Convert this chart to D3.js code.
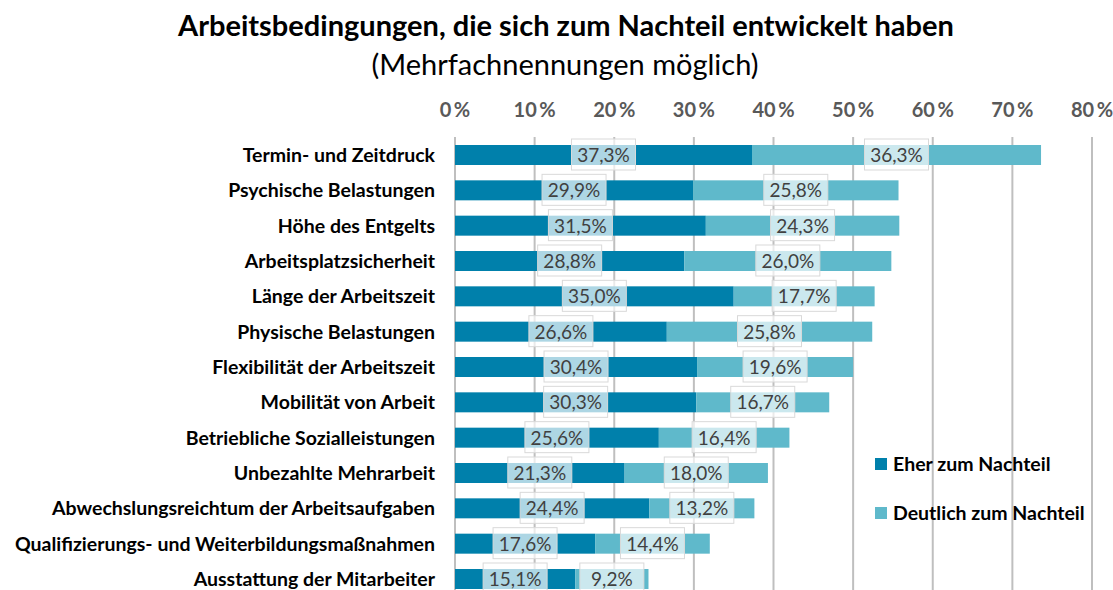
<!DOCTYPE html>
<html>
<head>
<meta charset="utf-8">
<script src="https://cdn.jsdelivr.net/npm/d3@7"></script>
<style>
  body { margin: 0; background: #fff; }
  svg { display: block; font-family: Lato, "Open Sans", sans-serif; }
</style>
</head>
<body>
<div id="chart"></div>
<script>
const categories = [
    "Termin- und Zeitdruck",
    "Psychische Belastungen",
    "Höhe des Entgelts",
    "Arbeitsplatzsicherheit",
    "Länge der Arbeitszeit",
    "Physische Belastungen",
    "Flexibilität der Arbeitszeit",
    "Mobilität von Arbeit",
    "Betriebliche Sozialleistungen",
    "Unbezahlte Mehrarbeit",
    "Abwechslungsreichtum der Arbeitsaufgaben",
    "Qualifizierungs- und Weiterbildungsmaßnahmen",
    "Ausstattung der Mitarbeiter"
];
const eherValues = [37.3, 29.9, 31.5, 28.8, 35.0, 26.6, 30.4, 30.3, 25.6, 21.3, 24.4, 17.6, 15.1];
const deutlichValues = [36.3, 25.8, 24.3, 26.0, 17.7, 25.8, 19.6, 16.7, 16.4, 18.0, 13.2, 14.4, 9.2];
const seriesNames = ["Eher zum Nachteil", "Deutlich zum Nachteil"];
const seriesColors = ["#0080ab", "#5fb9cb"];
const xTicks = [0, 10, 20, 30, 40, 50, 60, 70, 80];

const width = 1113, height = 590;

const svg = d3.select("#chart").append("svg")
    .attr("width", width)
    .attr("height", height);

const x = d3.scaleLinear().domain([0, 80]).range([455, 1092]);
const y = d3.scaleBand().domain(categories).range([135, 599]).paddingInner(0.434).paddingOuter(0.283);

// title
svg.append("text")
    .attr("x", 566).attr("y", 36)
    .attr("text-anchor", "middle")
    .attr("font-size", "29px")
    .attr("font-weight", "bold")
    .attr("fill", "#000")
    .text("Arbeitsbedingungen, die sich zum Nachteil entwickelt haben");

svg.append("text")
    .attr("x", 565).attr("y", 75)
    .attr("text-anchor", "middle")
    .attr("font-size", "29px")
    .attr("fill", "#000")
    .text("(Mehrfachnennungen möglich)");

// grid lines
svg.append("g").selectAll("line")
    .data(xTicks)
    .enter().append("line")
    .attr("x1", d => x(d)).attr("x2", d => x(d))
    .attr("y1", 137).attr("y2", height)
    .attr("stroke", "#bfbfbf")
    .attr("stroke-width", 2);

// top axis labels (thin space before %)
svg.append("g").selectAll("text")
    .data(xTicks)
    .enter().append("text")
    .attr("x", d => x(d)).attr("y", 117)
    .attr("text-anchor", "middle")
    .attr("font-size", "20px")
    .attr("font-weight", "bold")
    .attr("fill", "#595959")
    .text(d => d + "\u2009%");

// stacked data
const rows = categories.map((c, i) => ({cat: c, a: eherValues[i], b: deutlichValues[i]}));
const stacked = d3.stack().keys(["a", "b"])(rows);

const fmt = v => v.toFixed(1).replace(".", ",") + "%";

stacked.forEach((layer, si) => {
    svg.append("g").selectAll("rect")
        .data(layer)
        .enter().append("rect")
        .attr("x", d => x(d[0]))
        .attr("y", d => y(d.data.cat))
        .attr("width", d => x(d[1]) - x(d[0]))
        .attr("height", y.bandwidth())
        .attr("fill", seriesColors[si]);
});

// value labels
stacked.forEach((layer, si) => {
    const g = svg.append("g").selectAll("g")
        .data(layer)
        .enter().append("g")
        .attr("transform", d => `translate(${x((d[0] + d[1]) / 2)},${y(d.data.cat) + y.bandwidth() / 2})`);

    g.append("rect")
        .attr("x", -32).attr("y", -16)
        .attr("width", 64).attr("height", 31)
        .attr("fill", "rgba(255,255,255,0.68)")
        .attr("stroke", "#d9d9d9")
        .attr("stroke-width", 1);

    g.append("text")
        .attr("text-anchor", "middle")
        .attr("dy", "0.36em")
        .attr("font-size", "19px")
        .attr("fill", "#404040")
        .text(d => fmt(d[1] - d[0]));
});

// category labels
svg.append("g").selectAll("text")
    .data(categories)
    .enter().append("text")
    .attr("x", 435)
    .attr("y", d => y(d) + y.bandwidth() / 2)
    .attr("dy", "0.36em")
    .attr("text-anchor", "end")
    .attr("font-size", "19.5px")
    .attr("font-weight", "bold")
    .attr("fill", "#000")
    .text(d => d);

// legend
const legend = svg.append("g").attr("transform", "translate(875,464)");
seriesNames.forEach((name, i) => {
    legend.append("rect")
        .attr("x", 0).attr("y", i * 49 - 6)
        .attr("width", 12).attr("height", 12)
        .attr("fill", seriesColors[i]);
    legend.append("text")
        .attr("x", 18).attr("y", i * 49)
        .attr("dy", "0.36em")
        .attr("font-size", "19.5px")
        .attr("font-weight", "bold")
        .attr("fill", "#000")
        .text(name);
});
</script>
</body>
</html>
